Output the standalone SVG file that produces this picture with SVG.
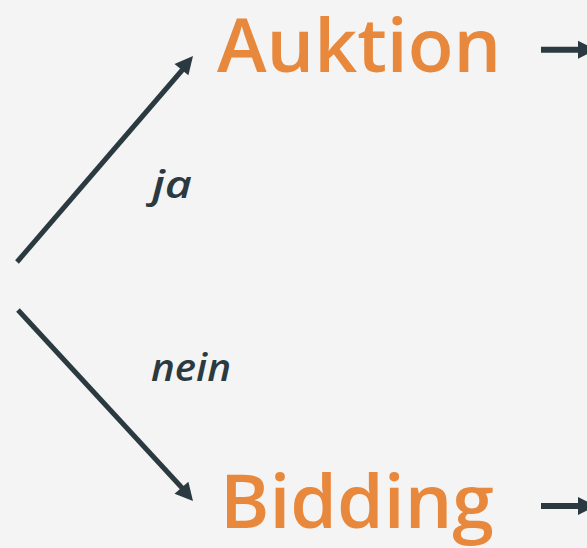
<svg xmlns="http://www.w3.org/2000/svg" width="587" height="548" viewBox="0 0 587 548">
  <style>
    .title { font-family: "Open Sans", "Noto Sans", sans-serif; font-weight: 600; font-size: 75px; fill: #E8883C; }
    .label { font-family: "Open Sans", "Noto Sans", sans-serif; font-weight: 600; font-style: italic; font-size: 38px; fill: #2B3A40; }
    .edge { stroke: #2B3A40; stroke-width: 5; fill: none; }
    .head { fill: #2B3A40; }
  </style>
  <rect width="587" height="548" fill="#F4F4F4"/>

  <g id="connectors">
    <!-- branch "ja" -->
    <line class="edge" x1="17" y1="262" x2="184" y2="68"/>
    <polygon class="head" points="193,56 188.4,75.3 174.5,64"/>
    <!-- branch "nein" -->
    <line class="edge" x1="18" y1="310" x2="184" y2="490"/>
    <polygon class="head" points="193,501 174.5,493.7 188.4,481.7"/>
    <!-- outgoing arrows -->
    <line x1="541" y1="49.7" x2="580" y2="49.7" stroke="#2B3A40" stroke-width="6"/>
    <polygon class="head" points="578,40.7 596,49.7 578,58.7"/>
    <line x1="541" y1="506" x2="580" y2="506" stroke="#2B3A40" stroke-width="6"/>
    <polygon class="head" points="578,497 596,506 578,515"/>
  </g>

  <g id="label-ja"><text class="label" x="152" y="198" textLength="40" lengthAdjust="spacingAndGlyphs">ja</text></g>
  <g id="label-nein"><text class="label" x="151" y="381" textLength="80" lengthAdjust="spacingAndGlyphs">nein</text></g>

  <g id="node-auktion"><text class="title" x="217" y="72">Auktion</text></g>
  <g id="node-bidding"><text class="title" x="220" y="528">Bidding</text></g>
</svg>
